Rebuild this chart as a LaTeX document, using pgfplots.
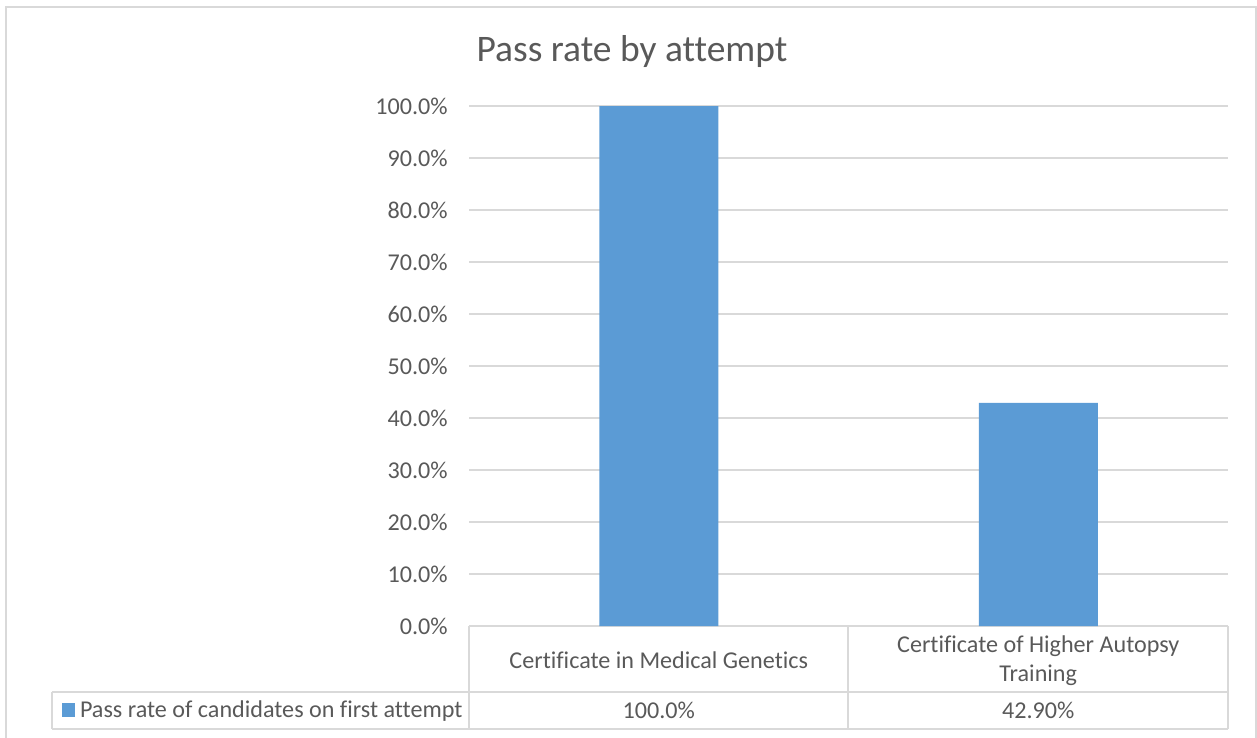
\documentclass[border=0pt]{standalone}
\usepackage{pgfplots}
\pgfplotsset{compat=1.18}
\usepackage{fontspec}
\setmainfont[Ligatures=NoCommon]{Carlito}
\definecolor{txt}{HTML}{595959}
\definecolor{gridc}{HTML}{D9D9D9}
\definecolor{barc}{HTML}{5B9BD5}
\begin{document}
\begin{tikzpicture}
\useasboundingbox (0,0) rectangle (942.75pt,-553.5pt);
\begin{scope}[x=0.75pt,y=-0.75pt]
% outer chart border
\draw[gridc,line width=0.9pt] (6,7) rectangle (1256,760);
% title
\node[text=txt,font=\fontsize{28.1}{33}\selectfont] at (632,52) {Pass rate by attempt};
% data table lines
\draw[gridc,line width=1.1pt] (52,692) -- (1228,692);
\draw[gridc,line width=1.1pt] (52,729) -- (1228,729);
\draw[gridc,line width=1.1pt] (52,692) -- (52,729);
\draw[gridc,line width=1.1pt] (469,626) -- (469,729);
\draw[gridc,line width=1.1pt] (848,626) -- (848,729);
\draw[gridc,line width=1.1pt] (1228,626) -- (1228,729);
\end{scope}
\begin{axis}[
  at={(351.75pt,-469.5pt)}, anchor=south west,
  width=569.25pt, height=390pt, scale only axis,
  xmin=-0.5, xmax=1.5, ymin=0, ymax=100,
  axis line style={draw=none},
  ymajorgrids, grid style={draw=gridc, line width=1.1pt},
  ytick={0,10,20,30,40,50,60,70,80,90,100},
  major tick length=0pt,
  yticklabel={\pgfmathprintnumber[fixed,fixed zerofill,precision=1]{\tick}\%},
  /pgf/number format/assume math mode=true,
  ticklabel style={font=\fontsize{18.1}{21.75}\selectfont, text=txt},
  yticklabel style={xshift=-12.5pt},
  xtick={0,1},
  xticklabels={Certificate in Medical Genetics,{Certificate of Higher Autopsy\\Training}},
  xticklabel style={align=center, anchor=center, yshift=-26pt},
  ybar, bar width=89.25pt,
  clip=false,
  legend style={at={(-0.5362,-0.1615)}, anchor=west, draw=none, fill=none,
    inner sep=0pt, outer sep=0pt, font=\fontsize{18.1}{21.75}\selectfont, text=txt},
  legend image code/.code={\fill[barc] (0pt,-5pt) rectangle (10pt,5pt); \path (11.5pt,0pt);},
]
\addplot[fill=barc, draw=none] coordinates {(0,100) (1,42.9)};
\addlegendentry{Pass rate of candidates on first attempt}
\node[text=txt,font=\fontsize{18.1}{21.75}\selectfont] at (axis cs:0,-16.25) {100.0\%};
\node[text=txt,font=\fontsize{18.1}{21.75}\selectfont] at (axis cs:1,-16.25) {42.90\%};
\end{axis}
\end{tikzpicture}
\end{document}
